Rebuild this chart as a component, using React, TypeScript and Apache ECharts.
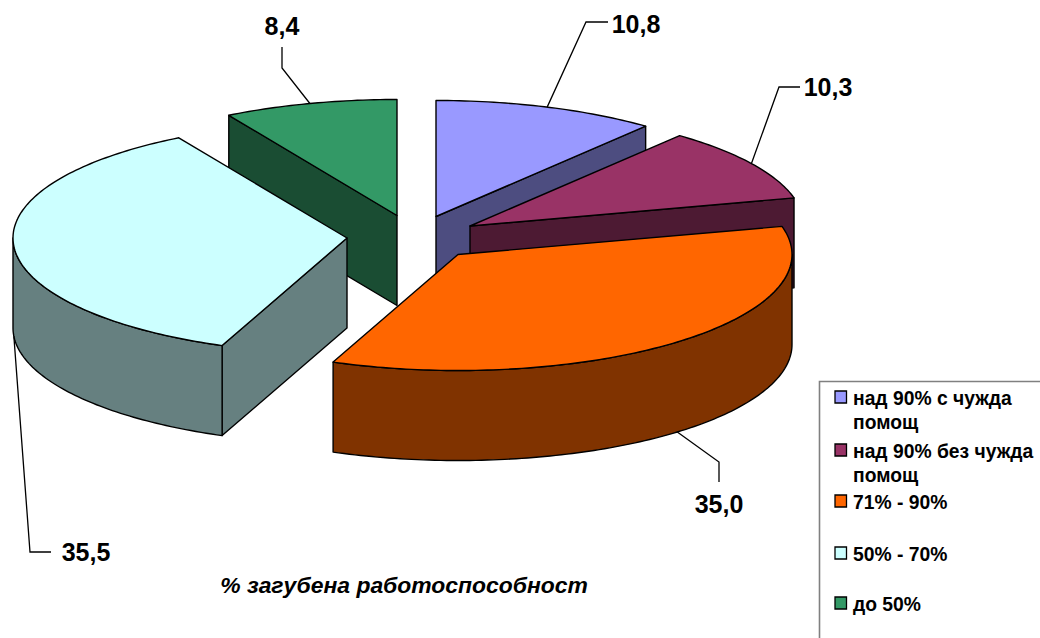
import React, { useEffect, useRef } from "react";
import * as echarts from "echarts";

// ---- data ----
const categories = ["над 90% с чужда\nпомощ", "над 90% без чужда\nпомощ", "71% - 90%", "50% - 70%", "до 50%"];
const values = [10.8, 10.3, 35.0, 35.5, 8.4];
const chartTitle = "% загубена работоспособност";

// ---- styles ----
const topColors = ["#9999FF", "#993366", "#FF6600", "#CCFFFF", "#339966"];
const sideColors = ["#4D4D80", "#4D1A33", "#803300", "#668080", "#1A4D33"];
const FONT = '"Liberation Sans", Arial, sans-serif';

// ---- layout of the exploded 3-D pie ----
const RX = 334;
const RY = 116;
const DEPTH = 90;
const centres = [[436, 216.5], [470, 226], [458, 254.5], [347, 238], [397, 215.5]];
const paintOrder = [4, 0, 1, 3, 2];
// label leader: elbow, end of line, label centre. The start is computed from the slice's mid angle.
const leaders = [
  { elbow: [586, 22], end: [608, 22], label: [636, 24], wall: false },
  { elbow: [779, 87], end: [800, 87], label: [828, 87], wall: false },
  { elbow: [719, 462], end: [719, 482], label: [719, 504], wall: true },
  { elbow: [30, 552], end: [51, 552], label: [86, 552], wall: true },
  { elbow: [282, 68], end: [282, 47], label: [282, 26], wall: false },
];
const legendTop = [391, 444, 495, 547, 597];

const total = values.reduce((a, b) => a + b, 0);
const angles = values.reduce<number[]>((acc, v) => [...acc, acc[acc.length - 1] + (v / total) * 360], [0]);

const pt = (i: number, deg: number, dz = 0): number[] => {
  const r = (deg * Math.PI) / 180;
  return [centres[i][0] + RX * Math.sin(r), centres[i][1] - RY * Math.cos(r) + dz];
};
const arc = (i: number, a: number, b: number, dz = 0): number[][] => {
  const n = Math.max(2, Math.ceil(Math.abs(b - a)));
  const out: number[][] = [];
  for (let k = 0; k <= n; k++) out.push(pt(i, a + ((b - a) * k) / n, dz));
  return out;
};

const line = { stroke: "#000", lineWidth: 1.4, lineJoin: "round" as const };

function renderSlice(_params: any, api: any) {
  const i = api.value(0) as number;
  const a = angles[i];
  const b = angles[i + 1];
  const apex = centres[i];
  const apexLow = [apex[0], apex[1] + DEPTH];
  const children: any[] = [];
  const side = (points: number[][]) =>
    children.push({ type: "polygon", shape: { points }, style: { fill: sideColors[i], ...line } });

  // cut faces that turn towards the viewer
  if (Math.sin((a * Math.PI) / 180) < -1e-6) side([apex, pt(i, a), pt(i, a, DEPTH), apexLow]);
  if (Math.sin((b * Math.PI) / 180) > 1e-6) side([apex, pt(i, b), pt(i, b, DEPTH), apexLow]);
  // outer wall
  const w0 = Math.max(a, 90);
  const w1 = Math.min(b, 270);
  if (w1 > w0) side([...arc(i, w0, w1), ...arc(i, w1, w0, DEPTH)]);
  // top face
  children.push({
    type: "polygon",
    shape: { points: [apex, ...arc(i, a, b)] },
    style: { fill: topColors[i], ...line },
  });
  // leader and value label
  const mid = (a + b) / 2;
  const l = leaders[i];
  children.push({
    type: "polyline",
    shape: { points: [pt(i, mid, l.wall ? DEPTH : 0), l.elbow, l.end] },
    style: { fill: "none", stroke: "#000", lineWidth: 1.3 },
  });
  children.push({
    type: "text",
    style: {
      text: values[i].toFixed(1).replace(".", ","),
      x: l.label[0],
      y: l.label[1],
      font: `bold 25px ${FONT}`,
      fill: "#000",
      textAlign: "center",
      textVerticalAlign: "middle",
    },
  });
  return { type: "group", children };
}

const legendGraphics = () => {
  const els: any[] = [
    {
      type: "rect",
      shape: { x: 819.5, y: 381.5, width: 400, height: 400 },
      style: { fill: "#fff", stroke: "#808080", lineWidth: 1.6 },
    },
  ];
  categories.forEach((name, i) => {
    els.push({
      type: "rect",
      shape: { x: 835, y: legendTop[i], width: 11.5, height: 12 },
      style: { fill: topColors[i], stroke: "#000", lineWidth: 1.3 },
    });
    els.push({
      type: "text",
      style: {
        text: name,
        x: 853,
        y: legendTop[i] - 5,
        font: `bold 19.3px ${FONT}`,
        lineHeight: 24,
        fill: "#000",
        textAlign: "left",
        textVerticalAlign: "top",
      },
    });
  });
  return els;
};

export default function App() {
  const ref = useRef<HTMLDivElement>(null);
  useEffect(() => {
    document.body.style.margin = "0";
    const chart = echarts.init(ref.current!, undefined, { renderer: "svg" });
    chart.setOption({
      animation: false,
      backgroundColor: "#fff",
      title: {
        text: chartTitle,
        left: 399,
        top: 568,
        textAlign: "center",
        textStyle: { fontFamily: FONT, fontSize: 22.9, fontWeight: "bold", fontStyle: "italic", color: "#000" },
      },
      graphic: legendGraphics(),
      series: [
        {
          type: "custom",
          coordinateSystem: "none",
          silent: true,
          renderItem: renderSlice,
          data: paintOrder.map((i) => [i]),
        },
      ],
    });
    return () => chart.dispose();
  }, []);
  return <div ref={ref} style={{ width: 1040, height: 638, overflow: "hidden" }} />;
}
